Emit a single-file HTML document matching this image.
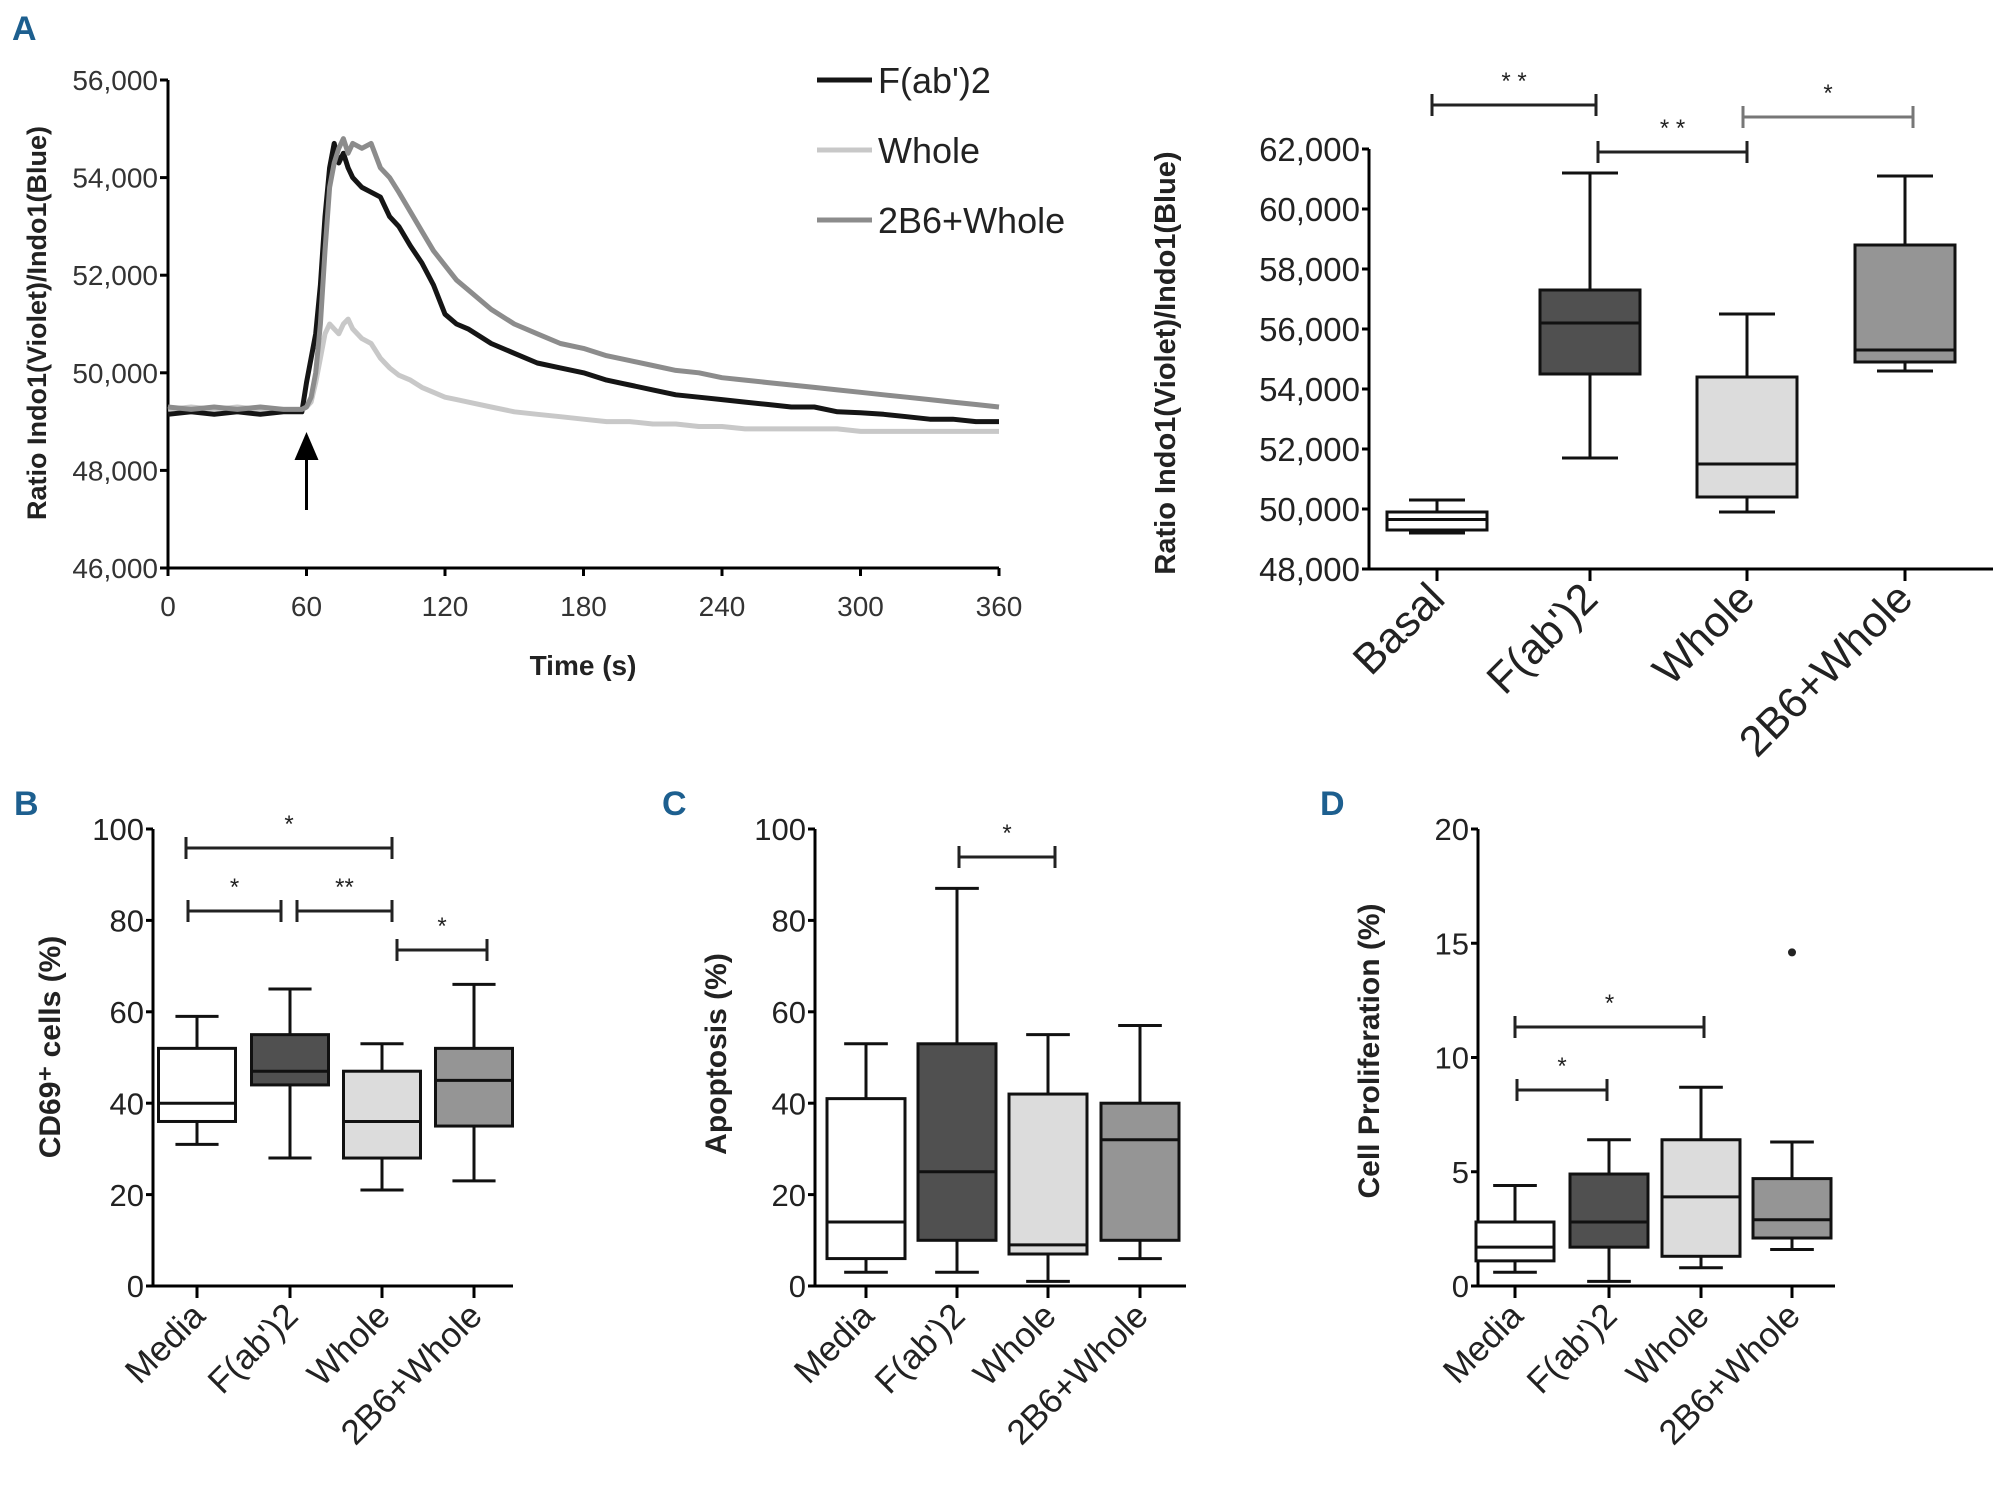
<!DOCTYPE html>
<html><head><meta charset="utf-8">
<style>
html,body{margin:0;padding:0;background:#fff;}
svg{display:block;font-family:"Liberation Sans",sans-serif;}
</style></head>
<body>
<svg id="fig" width="2000" height="1486" viewBox="0 0 2000 1486" xmlns="http://www.w3.org/2000/svg">
<g id="gA"></g>
<g id="gA2"></g>
<g id="gB"></g>
<g id="gC"></g>
<g id="gD"></g>
</svg>
<script>
// ---------- Panel A trace data ----------
const times = [0,10,20,30,40,50,58,60,62,64,66,68,70,72,74,76,78,80,84,88,92,96,100,105,110,115,120,125,130,140,150,160,170,180,190,200,210,220,230,240,250,260,270,280,290,300,310,320,330,340,350,360];
const fabValues = [49150,49200,49150,49200,49150,49200,49200,49800,50300,50800,51800,53200,54200,54700,54300,54500,54200,54000,53800,53700,53600,53200,53000,52600,52250,51800,51200,51000,50900,50600,50400,50200,50100,50000,49850,49750,49650,49550,49500,49450,49400,49350,49300,49300,49200,49180,49150,49100,49050,49050,49000,49000];
const wholeValues = [49250,49300,49250,49300,49250,49250,49250,49300,49400,49800,50300,50800,51000,50900,50800,51000,51100,50900,50700,50600,50300,50100,49950,49850,49700,49600,49500,49450,49400,49300,49200,49150,49100,49050,49000,49000,48950,48950,48900,48900,48850,48850,48850,48850,48850,48800,48800,48800,48800,48800,48800,48800];
const b2b6Values = [49300,49250,49300,49250,49300,49250,49250,49300,49500,50000,51000,52500,53800,54300,54600,54800,54500,54700,54600,54700,54200,54000,53700,53300,52900,52500,52200,51900,51700,51300,51000,50800,50600,50500,50350,50250,50150,50050,50000,49900,49850,49800,49750,49700,49650,49600,49550,49500,49450,49400,49350,49300];
const aXTicks = [0,60,120,180,240,300,360];
const aYTicks = [46000,48000,50000,52000,54000,56000];

// ---------- Panel A box data ----------
const a2Cats = ["Basal","F(ab')2","Whole","2B6+Whole"];
const a2Min = [49200,51700,49900,54600];
const a2Q1 = [49300,54500,50400,54900];
const a2Med = [49650,56200,51500,55300];
const a2Q3 = [49900,57300,54400,58800];
const a2Max = [50300,61200,56500,61100];
const a2YTicks = [48000,50000,52000,54000,56000,58000,60000,62000];

// ---------- Panel B ----------
const bCats = ["Media","F(ab')2","Whole","2B6+Whole"];
const bMin = [31,28,21,23];
const bQ1 = [36,44,28,35];
const bMed = [40,47,36,45];
const bQ3 = [52,55,47,52];
const bMax = [59,65,53,66];
// ---------- Panel C ----------
const cMin = [3,3,1,6];
const cQ1 = [6,10,7,10];
const cMed = [14,25,9,32];
const cQ3 = [41,53,42,40];
const cMax = [53,87,55,57];
// ---------- Panel D ----------
const dMin = [0.6,0.2,0.8,1.6];
const dQ1 = [1.1,1.7,1.3,2.1];
const dMed = [1.7,2.8,3.9,2.9];
const dQ3 = [2.8,4.9,6.4,4.7];
const dMax = [4.4,6.4,8.7,6.3];
const dOutlier = [null,null,null,14.6];
const pctTicks = [0,20,40,60,80,100];
const dTicks = [0,5,10,15,20];

const NS="http://www.w3.org/2000/svg";
function mk(parent,tag,attrs,text){const e=document.createElementNS(NS,tag);for(const k in attrs)e.setAttribute(k,attrs[k]);if(text!==undefined)e.textContent=text;parent.appendChild(e);return e;}
const fillCols=["#ffffff","#505050","#dcdcdc","#959595"];

function panelLabel(g,x,y,t){
  const e=mk(g,'text',{x:x,y:y,'font-size':34,'font-weight':'bold',fill:'#1d5f8f'},t);
  
  
}

// ---------- Panel A trace ----------
(function(){
  const g=document.getElementById('gA');
  const x0=168,x1=999,yT=80,yB=568;
  const xs=t=>x0+(t-0)/360*(x1-x0);
  const ys=v=>yB-(v-46000)/10000*(yB-yT);
  panelLabel(g,12,40,'A');
  const ax=mk(g,'path',{d:`M${x0},${yT} V${yB} H${x1}`,stroke:'#000','stroke-width':3,fill:'none'});
  
  aYTicks.forEach(v=>{
    mk(g,'line',{x1:x0-8,x2:x0,y1:ys(v),y2:ys(v),stroke:'#000','stroke-width':3});
    const t=mk(g,'text',{x:x0-10,y:ys(v)+10,'text-anchor':'end','font-size':28,fill:'#333'},v.toLocaleString('en-US'));
    
  });
  aXTicks.forEach(v=>{
    mk(g,'line',{x1:xs(v),x2:xs(v),y1:yB,y2:yB+8,stroke:'#000','stroke-width':3});
    const t=mk(g,'text',{x:xs(v),y:yB+48,'text-anchor':'middle','font-size':28,fill:'#333'},v);
    
  });
  const xt=mk(g,'text',{x:583,y:675,'text-anchor':'middle','font-size':28,'font-weight':'bold',fill:'#222'},'Time (s)');
  
  const yt=mk(g,'text',{x:0,y:0,transform:'translate(46,323) rotate(-90)','text-anchor':'middle','font-size':27,'font-weight':'bold',fill:'#222'},'Ratio Indo1(Violet)/Indo1(Blue)');
  
  const series=[[wholeValues,'#c8c8c8','whole'],[b2b6Values,'#8c8c8c','2b6-whole'],[fabValues,'#151515','fab2']];
  const order=[series[0],series[2],series[1]];
  order.forEach(s=>{
    const pts=times.map((t,i)=>xs(t).toFixed(1)+','+ys(s[0][i]).toFixed(1)).join(' ');
    const p=mk(g,'polyline',{points:pts,fill:'none',stroke:s[1],'stroke-width':5,'stroke-linejoin':'round'});
    
  });
  const ar=mk(g,'path',{d:`M${xs(60)},510 V450`,stroke:'#000','stroke-width':3});
  
  mk(g,'path',{d:`M${xs(60)-12},460 L${xs(60)},432 L${xs(60)+12},460 Z`,fill:'#000'});
  const leg=[['F(ab\')2','#151515',80],['Whole','#c8c8c8',150],['2B6+Whole','#8c8c8c',220]];
  leg.forEach(l=>{
    const gg=mk(g,'g',{});
    
    mk(gg,'line',{x1:817,x2:872,y1:l[2],y2:l[2],stroke:l[1],'stroke-width':5});
    mk(gg,'text',{x:878,y:l[2]+13,'font-size':36,fill:'#222'},l[0]);
  });
})();

// ---------- generic box plot ----------
function boxPanel(g,o){
  const ys=v=>o.yB-(v-o.ymin)/(o.ymax-o.ymin)*(o.yB-o.yT);
  const ax=mk(g,'path',{d:`M${o.x0},${o.yT} V${o.yB} H${o.xEnd}`,stroke:'#000','stroke-width':3,fill:'none'});
  
  o.ticks.forEach(v=>{
    mk(g,'line',{x1:o.x0-7,x2:o.x0,y1:ys(v),y2:ys(v),stroke:'#000','stroke-width':3});
    const t=mk(g,'text',{x:o.x0-9,y:ys(v)+o.tf*0.36,'text-anchor':'end','font-size':o.tf,fill:'#222'},o.fmt?v.toLocaleString('en-US'):v);
    
  });
  o.cats.forEach((c,i)=>{
    const cx=o.cx[i];
    mk(g,'line',{x1:cx,x2:cx,y1:o.yB,y2:o.yB+12,stroke:'#000','stroke-width':3});
    const gg=mk(g,'g',{});
    
    
    const hw=o.bw/2,cw=o.bw*0.28;
    mk(gg,'line',{x1:cx,x2:cx,y1:ys(o.max[i]),y2:ys(o.min[i]),stroke:'#111','stroke-width':3});
    mk(gg,'line',{x1:cx-cw,x2:cx+cw,y1:ys(o.max[i]),y2:ys(o.max[i]),stroke:'#111','stroke-width':3});
    mk(gg,'line',{x1:cx-cw,x2:cx+cw,y1:ys(o.min[i]),y2:ys(o.min[i]),stroke:'#111','stroke-width':3});
    mk(gg,'rect',{x:cx-hw,y:ys(o.q3[i]),width:o.bw,height:ys(o.q1[i])-ys(o.q3[i]),fill:fillCols[i],stroke:'#111','stroke-width':3});
    mk(gg,'line',{x1:cx-hw,x2:cx+hw,y1:ys(o.med[i]),y2:ys(o.med[i]),stroke:'#111','stroke-width':3});
    if(o.out&&o.out[i]!=null){mk(gg,'circle',{cx:cx,cy:ys(o.out[i]),r:4,fill:'#222'});}
    const lt=mk(g,'text',{x:0,y:0,transform:`translate(${cx+10},${o.yB+o.lo}) rotate(-45)`,'text-anchor':'end','font-size':o.lf,fill:'#222'},c);
    
  });
  const yt=mk(g,'text',{x:0,y:0,transform:`translate(${o.ytx},${o.yty}) rotate(-90)`,'text-anchor':'middle','font-size':o.ytf,'font-weight':'bold',fill:'#222'},o.ytitle);
  
  o.sig.forEach(s=>{
    const gg=mk(g,'g',{});
    
    const col=s.c||'#222';
    mk(gg,'path',{d:`M${s.a},${s.y-11} V${s.y+11} M${s.a},${s.y} H${s.b} M${s.b},${s.y-11} V${s.y+11}`,stroke:col,'stroke-width':3,fill:'none'});
    mk(gg,'text',{x:(s.a+s.b)/2,y:s.y-16,'text-anchor':'middle','font-size':24,fill:'#222'},s.t);
  });
}

boxPanel(document.getElementById('gA2'),{x0:1369,xEnd:1993,yT:149,yB:569,ymin:48000,ymax:62000,ticks:a2YTicks,fmt:true,tf:33,
  cats:a2Cats,cx:[1437,1590,1747,1905],bw:100,min:a2Min,q1:a2Q1,med:a2Med,q3:a2Q3,max:a2Max,lo:32,lf:43,
  ytitle:'Ratio Indo1(Violet)/Indo1(Blue)',ytx:1175,yty:363,ytf:29,
  sig:[{a:1432,b:1596,y:105,t:'* *'},{a:1598,b:1747,y:152,t:'* *'},{a:1743,b:1913,y:117,t:'*',c:'#777'}]});

const gB=document.getElementById('gB');panelLabel(gB,14,815,'B');
boxPanel(gB,{x0:153,xEnd:513,yT:829,yB:1286,ymin:0,ymax:100,ticks:pctTicks,tf:31,
  cats:bCats,cx:[197,290,382,474],bw:77,min:bMin,q1:bQ1,med:bMed,q3:bQ3,max:bMax,lo:32,lf:35,
  ytitle:'CD69⁺ cells (%)',ytx:60,yty:1047,ytf:30,
  sig:[{a:186,b:392,y:848,t:'*'},{a:188,b:281,y:911,t:'*'},{a:297,b:392,y:911,t:'**'},{a:397,b:487,y:950,t:'*'}]});

const gC=document.getElementById('gC');panelLabel(gC,662,815,'C');
boxPanel(gC,{x0:815,xEnd:1186,yT:829,yB:1286,ymin:0,ymax:100,ticks:pctTicks,tf:31,
  cats:bCats,cx:[866,957,1048,1140],bw:78,min:cMin,q1:cQ1,med:cMed,q3:cQ3,max:cMax,lo:32,lf:35,
  ytitle:'Apoptosis (%)',ytx:726,yty:1054,ytf:30,
  sig:[{a:959,b:1055,y:857,t:'*'}]});

const gD=document.getElementById('gD');panelLabel(gD,1320,815,'D');
boxPanel(gD,{x0:1478,xEnd:1835,yT:829,yB:1286,ymin:0,ymax:20,ticks:dTicks,tf:31,
  cats:bCats,cx:[1515,1609,1701,1792],bw:78,min:dMin,q1:dQ1,med:dMed,q3:dQ3,max:dMax,out:dOutlier,lo:32,lf:35,
  ytitle:'Cell Proliferation (%)',ytx:1379,yty:1051,ytf:30,
  sig:[{a:1515,b:1704,y:1027,t:'*'},{a:1517,b:1607,y:1090,t:'*'}]});
</script>
</body></html>
